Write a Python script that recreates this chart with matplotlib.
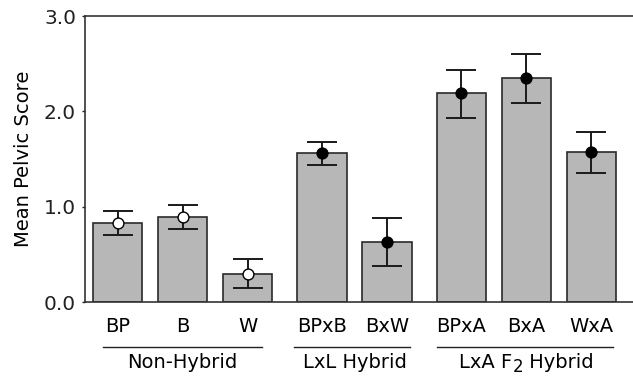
import matplotlib
matplotlib.use("Agg")
import matplotlib.pyplot as plt
from matplotlib.transforms import blended_transform_factory, offset_copy
import numpy as np

categories = ["BP", "B", "W", "BPxB", "BxW", "BPxA", "BxA", "WxA"]
means = [0.83, 0.89, 0.29, 1.56, 0.63, 2.19, 2.35, 1.57]
err_upper = [0.955, 1.02, 0.45, 1.675, 0.885, 2.435, 2.60, 1.78]
err_lower = [0.705, 0.765, 0.145, 1.44, 0.375, 1.93, 2.09, 1.355]
# group label parts: (main text, subscript, trailing text)
groups = [("Non-Hybrid", "", ""), ("LxL Hybrid", "", ""), ("LxA F", "2", " Hybrid")]
group_sizes = [3, 2, 3]
marker_fill = ["white", "white", "white", "black", "black", "black", "black", "black"]
yticks = [0.0, 1.0, 2.0, 3.0]
ylabel = "Mean Pelvic Score"

plt.rcParams['font.family'] = ['DejaVu Sans']

fig = plt.figure(figsize=(6.33, 3.85), dpi=100)
ax = fig.add_axes([85 / 633, 1 - 302 / 385, 1 - 85 / 633 + 0.01, (302 - 16) / 385])

gap = 0.145
pos = []
p = 0.0
for n in group_sizes:
    for k in range(n):
        pos.append(p)
        p += 1.0
    p += gap
pos = np.array(pos)

ax.bar(pos, means, width=0.76, color="#b7b7b7", edgecolor="#2a2a2a", linewidth=1.2, zorder=2)
m = np.array(means)
yerr = np.vstack([m - np.array(err_lower), np.array(err_upper) - m])
ax.errorbar(pos, means, yerr=yerr, fmt="none", ecolor="#1a1a1a", elinewidth=1.4,
            capsize=10.5, capthick=1.4, zorder=3)
for x, y, fc in zip(pos, means, marker_fill):
    ax.plot(x, y, "o", markersize=7.8, markerfacecolor=fc, markeredgecolor="black",
            markeredgewidth=1.0, zorder=4)

ax.set_xlim(-0.503, 7.93 + 0.01 * 633 / 65)
ax.set_ylim(0, 3.0)
ax.set_yticks(yticks)
ax.set_yticklabels([f"{v:.1f}" for v in yticks], fontsize=14.5)
ax.tick_params(axis="y", length=2.5, width=1.0, pad=4, colors="#222222")
ax.set_xticks(pos)
ax.set_xticklabels(categories, fontsize=14)
ax.tick_params(axis="x", length=0, pad=11)
ax.set_ylabel(ylabel, fontsize=14, labelpad=8)
ax.spines["right"].set_visible(False)
for s in ["left", "top", "bottom"]:
    ax.spines[s].set_linewidth(1.2)
    ax.spines[s].set_color("#333333")

trans = blended_transform_factory(ax.transData, ax.transAxes)
renderer = fig.canvas.get_renderer()
pads = [(0.23, 0.22), (0.43, 0.36), (0.38, 0.33)]
start = 0
for gi, (parts, n) in enumerate(zip(groups, group_sizes)):
    x0 = pos[start] - pads[gi][0]
    x1 = pos[start + n - 1] + pads[gi][1]
    ax.plot([x0, x1], [-0.157, -0.157], color="#222222", lw=1.0, transform=trans, clip_on=False)
    xc = (pos[start] + pos[start + n - 1]) / 2
    main, sub, tail = parts
    # measure widths in pixels
    tmp = []
    sizes = [14, 12, 14]
    widths = []
    for txt, fs in zip([main, sub, tail], sizes):
        if txt:
            t = fig.text(0, 0, txt.replace(" ", "\u00a0"), fontsize=fs)
            widths.append(t.get_window_extent(renderer).width)
            t.remove()
        else:
            widths.append(0.0)
    total = sum(widths)
    off = -total / 2
    dy = [0, -5, 0]
    for txt, fs, w, d in zip([main, sub, tail], sizes, widths, dy):
        if txt:
            tr = offset_copy(trans, fig=fig, x=off * 72 / fig.dpi, y=d * 72 / fig.dpi, units="points")
            ax.text(xc, -0.21, txt.replace(" ", "\u00a0"), transform=tr, ha="left",
                    va="center", fontsize=fs)
        off += w
    start += n

fig.savefig("out.png", dpi=100)
